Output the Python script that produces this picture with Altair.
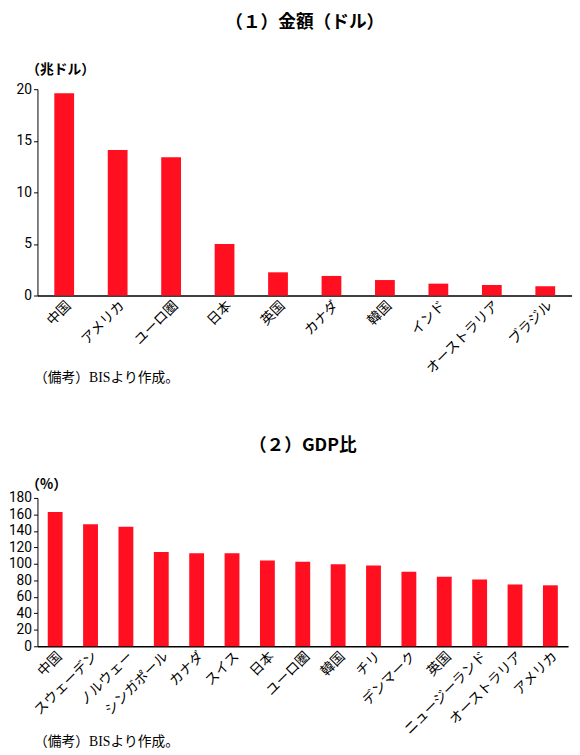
import altair as alt
import pandas as pd

cats1 = ["中国", "アメリカ", "ユーロ圏", "日本", "英国", "カナダ", "韓国", "インド", "オーストラリア", "ブラジル"]
vals1 = [19.6, 14.1, 13.4, 5.0, 2.25, 1.9, 1.5, 1.15, 1.02, 0.9]

cats2 = ["中国", "スウェーデン", "ノルウェー", "シンガポール", "カナダ", "スイス", "日本", "ユーロ圏",
         "韓国", "チリ", "デンマーク", "英国", "ニュージーランド", "オーストラリア", "アメリカ"]
vals2 = [163, 148, 145, 114.5, 113, 113, 104, 102.5, 99.5, 98, 90.5, 84.5, 81, 75, 74]

RED = "#FF0F1F"
JP = "Noto Sans CJK JP"
NUM = "Roboto"
NOTE = "Liberation Serif, Noto Sans CJK JP"

df1 = pd.DataFrame({"cat": cats1, "val": vals1})
df2 = pd.DataFrame({"cat": cats2, "val": vals2})


def make(df, cats, ymax, ystep, unit, title, w, h, pad, note_y, unit_y, toff):
    return alt.Chart(df).mark_bar(color=RED).encode(
        x=alt.X("cat:N", sort=cats,
                scale=alt.Scale(paddingInner=pad, paddingOuter=pad / 2),
                axis=alt.Axis(title="（備考）BISより作成。", titleFont=NOTE, titleFontSize=14,
                              titleFontWeight="normal", titleAnchor="start", titleAlign="left",
                              titleX=-4, titleY=note_y, titleBaseline="middle",
                              labelAngle=-45, labelFont=JP, labelFontSize=14, labelColor="black",
                              labelPadding=3, ticks=False, domainColor="black", domainWidth=1.5)),
        y=alt.Y("val:Q", scale=alt.Scale(domain=[0, ymax], nice=False),
                axis=alt.Axis(values=list(range(0, ymax + 1, ystep)), title=unit, titleAngle=0,
                              titleFont=JP, titleFontSize=14, titleFontWeight="bold",
                              titleAlign="left", titleX=-12, titleY=unit_y, titleBaseline="middle",
                              labelFont=NUM, labelFontSize=14, labelColor="black",
                              labelPadding=2, tickSize=4, tickColor="black", domainColor="black",
                              grid=False)),
    ).properties(
        width=w, height=h,
        title=alt.TitleParams(title, font=JP, fontSize=18, fontWeight="bold", anchor="middle",
                              offset=toff),
    )


c1 = make(df1, cats1, 20, 5, "（兆ドル）", "（１）金額（ドル）", 544, 210, 0.63, 84, -20, 31)
c2 = make(df2, cats2, 180, 20, "（%）", "（２）GDP比", 540, 151, 0.58, 97, -14, 23)

chart = alt.vconcat(c1, c2, spacing=53).configure(
    padding={"left": 0, "top": 0, "right": 0, "bottom": 0}
).configure_view(stroke=None)

chart.save("out.html", embed_options={"renderer": "svg", "actions": False})
